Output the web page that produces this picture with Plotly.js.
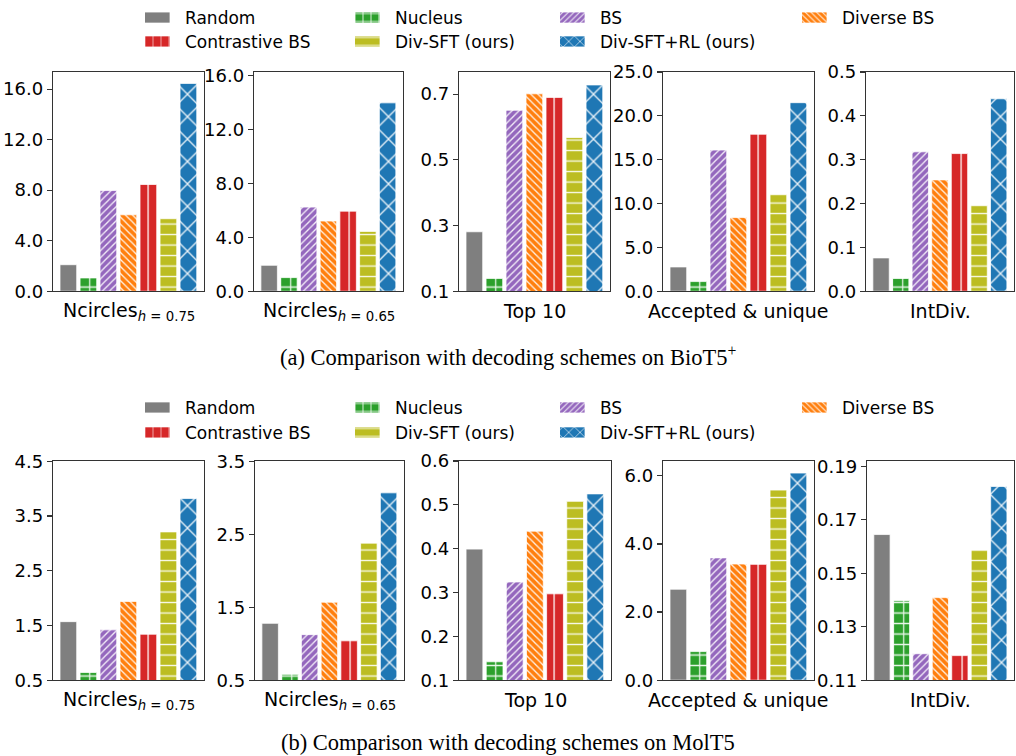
<!DOCTYPE html>
<html><head><meta charset="utf-8">
<script src="https://cdn.plot.ly/plotly-3.0.1.min.js"></script>
<style>body{margin:0;background:#fff}#chart{width:1016px;height:756px}</style>
</head><body><div id="chart"></div>
<script>
// ---- data ----
const methods = ['Random', 'Nucleus', 'BS', 'Diverse BS', 'Contrastive BS', 'Div-SFT (ours)', 'Div-SFT+RL (ours)'];
const metricTitles = ['Ncircles<sub><i>h</i> = 0.75</sub>', 'Ncircles<sub><i>h</i> = 0.65</sub>', 'Top 10', 'Accepted &amp; unique', 'IntDiv.'];

// (a) BioT5+
const ncircles075_a = [2.10, 1.05, 7.97, 6.05, 8.45, 5.74, 16.45];
const ncircles065_a = [1.92, 1.01, 6.23, 5.20, 5.93, 4.43, 13.95];
const top10_a       = [0.281, 0.139, 0.651, 0.701, 0.690, 0.568, 0.728];
const accepted_a    = [2.77, 1.10, 16.10, 8.40, 17.90, 11.00, 21.50];
const intdiv_a      = [0.076, 0.029, 0.318, 0.254, 0.314, 0.195, 0.439];

// (b) MolT5
const ncircles075_b = [1.57, 0.64, 1.42, 1.94, 1.34, 3.21, 3.82];
const ncircles065_b = [1.28, 0.58, 1.125, 1.57, 1.04, 2.38, 3.07];
const top10_b       = [0.399, 0.142, 0.324, 0.440, 0.297, 0.508, 0.525];
const accepted_b    = [2.67, 0.84, 3.59, 3.41, 3.40, 5.58, 6.08];
const intdiv_b      = [0.1645, 0.1397, 0.1199, 0.1409, 0.1192, 0.1587, 0.1825];

const captionA = '(a) Comparison with decoding schemes on BioT5<sup>+</sup>';
const captionB = '(b) Comparison with decoding schemes on MolT5';

// ---- styles ----
const colors = ['#7f7f7f', '#2ca02c', '#9467bd', '#ff7f0e', '#d62728', '#bcbd22', '#1f77b4'];
const hatches = ['', '+', '/', '\\', '|', '-', 'x'];
const hatchSizes = [8, 10.5, 5, 5, 17.3, 10.5, 15.85];
const hatchSolidity = [0.1, 0.22, 0.26, 0.26, 0.08, 0.13, 0.16];

const W = 1016, H = 756;
const rows = [
  {data: [ncircles075_a, ncircles065_a, top10_a, accepted_a, intdiv_a],
   xdom: [[53,204],[254,403],[459,610],[663,814],[866,1014]], ydom: [70,290],
   yax: [
     {range:[0,17.37], tick0:0, dtick:4, tickformat:'.1f'},
     {range:[0,16.25], tick0:0, dtick:4, tickformat:'.1f'},
     {range:[0.1,0.768], tick0:0.1, dtick:0.2, tickformat:'.1f'},
     {range:[0,25.02], tick0:0, dtick:5, tickformat:'.1f'},
     {range:[0,0.5005], tick0:0, dtick:0.1, tickformat:'.1f'}],
   titleY: 310, legY: [16, 40], caption: captionA, capY: 355},
  {data: [ncircles075_b, ncircles065_b, top10_b, accepted_b, intdiv_b],
   xdom: [[53,204],[255,404],[459,611],[663,814],[867,1014]], ydom: [460,680],
   yax: [
     {range:[0.5,4.51], tick0:0.5, dtick:1, tickformat:'.1f'},
     {range:[0.5,3.51], tick0:0.5, dtick:1, tickformat:'.1f'},
     {range:[0.1,0.6005], tick0:0.1, dtick:0.1, tickformat:'.1f'},
     {range:[0,6.44], tick0:0, dtick:2, tickformat:'.1f'},
     {range:[0.11,0.1921], tick0:0.11, dtick:0.02, tickformat:'.2f'}],
   titleY: 700, legY: [407, 432], caption: captionB, capY: 742}
];
const legCols = [185, 395, 600, 842];
const legSlots = [[0,0],[0,1],[0,2],[0,3],[1,0],[1,1],[1,2]];

const traces = [];
const layout = {
  width: W, height: H, margin: {l:0, r:0, t:0, b:0},
  paper_bgcolor: '#fff', plot_bgcolor: '#fff',
  barmode: 'overlay', bargap: 0,
  font: {family: 'DejaVu Sans', size: 17, color: '#000'},
  annotations: []
};

let axn = 0;
rows.forEach((row, r) => {
  row.data.forEach((vals, c) => {
    axn++;
    const xa = axn === 1 ? 'x' : 'x' + axn;
    const ya = axn === 1 ? 'y' : 'y' + axn;
    const xk = axn === 1 ? 'xaxis' : 'xaxis' + axn;
    const yk = axn === 1 ? 'yaxis' : 'yaxis' + axn;
    layout[xk] = {
      domain: [row.xdom[c][0] / W, row.xdom[c][1] / W], anchor: ya,
      type: 'category', categoryorder: 'array', categoryarray: methods,
      range: [-0.7675, 6.78], showticklabels: false, ticks: '',
      showline: true, mirror: true, linecolor: '#333', linewidth: 1.2,
      showgrid: false, zeroline: false, fixedrange: true
    };
    const ys = row.yax[c];
    layout[yk] = {
      domain: [1 - row.ydom[1] / H, 1 - row.ydom[0] / H], anchor: xa,
      range: ys.range, tick0: ys.tick0, dtick: ys.dtick, tickformat: ys.tickformat,
      tickmode: 'linear', ticks: 'outside', ticklen: 5, tickwidth: 1.2, tickcolor: '#333',
      showline: true, mirror: true, linecolor: '#333', linewidth: 1.2,
      showgrid: false, zeroline: false, fixedrange: true,
      tickfont: {family: 'DejaVu Sans', size: 18, color: '#000'}
    };
    methods.forEach((m, i) => {
      const idx = r * 7 + i + 1;
      const legName = idx === 1 ? 'legend' : 'legend' + idx;
      traces.push({
        type: 'bar', x: [m], y: [vals[i]], name: m,
        xaxis: xa, yaxis: ya, width: 0.835,
        legendgroup: m + r, showlegend: c === 0, legend: legName,
        marker: {
          color: colors[i],
          line: {color: 'rgba(255,255,255,0.75)', width: 1},
          pattern: {shape: hatches[i], fillmode: 'replace', bgcolor: colors[i],
                    fgcolor: '#ffffff', fgopacity: 0.9,
                    size: hatchSizes[i], solidity: hatchSolidity[i]}
        },
        hoverinfo: 'skip'
      });
    });
    layout.annotations.push({
      text: metricTitles[c], xref: xa + ' domain', x: 0.5, yref: 'paper', y: 1 - row.titleY / H,
      xanchor: 'center', yanchor: 'middle', showarrow: false,
      font: {family: 'DejaVu Sans', size: 19, color: '#000'}
    });
  });
  methods.forEach((m, i) => {
    const idx = r * 7 + i + 1;
    const key = idx === 1 ? 'legend' : 'legend' + idx;
    const [lr, lc] = legSlots[i];
    layout[key] = {
      x: (legCols[lc] - 40) / W, y: 1 - row.legY[lr] / H, xanchor: 'left', yanchor: 'middle',
      bgcolor: 'rgba(0,0,0,0)', borderwidth: 0, itemclick: false, itemdoubleclick: false,
      font: {family: 'DejaVu Sans', size: 17, color: '#000'}
    };
  });
  layout.annotations.push({
    text: row.caption, xref: 'paper', x: 0.5, yref: 'paper', y: 1 - row.capY / H,
    xanchor: 'center', yanchor: 'middle', showarrow: false,
    font: {family: 'Liberation Serif', size: 22.5, color: '#000'}
  });
});

Plotly.newPlot('chart', traces, layout, {displayModeBar: false, staticPlot: true}).then(gd => {
  // widen legend swatches to matplotlib-like rectangles
  gd.querySelectorAll('.legendpoints path').forEach(p => p.setAttribute('d', 'M5,5.5H-29V-5.5H5Z'));
});
</script>
</body></html>
